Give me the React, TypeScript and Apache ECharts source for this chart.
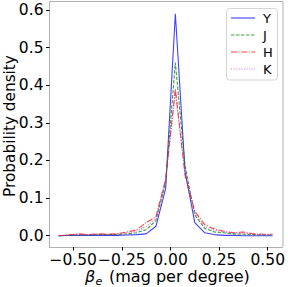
import React, { useEffect, useRef } from "react";
import * as echarts from "echarts";

const xBins = [-0.575, -0.525, -0.475, -0.425, -0.375, -0.325, -0.275, -0.225, -0.175, -0.125, -0.075, -0.025, 0.025, 0.075, 0.125, 0.175, 0.225, 0.275, 0.325, 0.375, 0.425, 0.475, 0.525];
const yY = [0, 0.001, 0.001, 0.001, 0.001, 0.001, 0.001, 0.002, 0.003, 0.005, 0.025, 0.125, 0.59, 0.17, 0.035, 0.008, 0.003, 0.001, 0.001, 0, 0, 0, 0];
const yJ = [0, 0.001, 0.002, 0.002, 0.003, 0.003, 0.003, 0.005, 0.008, 0.016, 0.04, 0.14, 0.46, 0.185, 0.055, 0.02, 0.01, 0.008, 0.005, 0.004, 0.003, 0.002, 0.002];
const yH = [0, 0.002, 0.005, 0.003, 0.005, 0.004, 0.005, 0.01, 0.015, 0.035, 0.05, 0.15, 0.39, 0.16, 0.065, 0.03, 0.018, 0.012, 0.008, 0.01, 0.005, 0.004, 0.004];
const yK = [0, 0.001, 0.003, 0.003, 0.004, 0.004, 0.004, 0.008, 0.012, 0.025, 0.045, 0.15, 0.38, 0.17, 0.06, 0.025, 0.015, 0.01, 0.007, 0.007, 0.004, 0.003, 0.003];
const xTicks = [-0.5, -0.25, 0, 0.25, 0.5];
const yTicks = [0, 0.1, 0.2, 0.3, 0.4, 0.5, 0.6];
const seriesNames = ["Y", "J", "H", "K"];

const fmtX = (v: number) => (v < 0 ? "\u2212" : "") + Math.abs(v).toFixed(2);

const colors = ["#0000ff", "#008000", "#ff0000", "#bf40bf"];
const dashes: any[] = [null, [3.5, 1.5], [6, 1.6, 1, 1.6], [1, 1.6]];

export default function App() {
  const ref = useRef<HTMLDivElement>(null);
  useEffect(() => {
    document.body.style.margin = "0";
    const chart = echarts.init(ref.current!, undefined, { renderer: "svg" });
    const datas = [yY, yJ, yH, yK];
    const series = seriesNames.map((name, k) => ({
      name,
      type: "line",
      data: xBins.map((x, i) => [x, datas[k][i]]),
      showSymbol: false,
      symbol: "none",
      lineStyle: { color: colors[k], width: 1.1, type: dashes[k] || "solid", opacity: 0.75 },
      itemStyle: { color: colors[k] },
    }));
    const legendEls: any[] = [
      { type: "rect", shape: { x: 226.5, y: 8.5, width: 51, height: 71.5, r: 3 }, style: { stroke: "#d5d5d5", fill: "#fff", lineWidth: 1 }, z: 100 },
    ];
    seriesNames.forEach((n, k) => {
      const yy = 18 + k * 17;
      legendEls.push({
        type: "line",
        shape: { x1: 231, y1: yy, x2: 255, y2: yy },
        style: { stroke: colors[k], lineWidth: 1.1, lineDash: dashes[k], opacity: 0.75 },
        z: 101,
      });
      legendEls.push({
        type: "text",
        x: 263,
        y: yy,
        style: { text: n, fontSize: 13, fontFamily: "DejaVu Sans", fill: "#000", verticalAlign: "middle", align: "left" },
        z: 101,
      });
    });
    chart.setOption({
      animation: false,
      grid: { left: 49.5, right: 5, top: 2, bottom: 40 },
      xAxis: {
        type: "value",
        min: -0.622,
        max: 0.575,
        splitLine: { show: false },
        axisLine: { show: true, onZero: false, lineStyle: { color: "#b0b0b0", width: 1 } },
        axisTick: { show: true, customValues: xTicks, length: 3.5, lineStyle: { color: "#000", width: 1 } },
        axisLabel: { customValues: xTicks, formatter: fmtX, fontSize: 15.5, lineHeight: 15, color: "#000", fontFamily: "DejaVu Sans", margin: 5 },
      },
      yAxis: {
        type: "value",
        min: -0.03,
        max: 0.621,
        splitLine: { show: false },
        axisLine: { show: true, onZero: false, lineStyle: { color: "#b0b0b0", width: 1 } },
        axisTick: { show: true, customValues: yTicks, length: 3.5, lineStyle: { color: "#000", width: 1 } },
        axisLabel: { customValues: yTicks, formatter: (v: number) => v.toFixed(1), fontSize: 15.5, color: "#000", fontFamily: "DejaVu Sans", margin: 6 },
      },
      graphic: [
        { type: "line", shape: { x1: 49.5, y1: 1.5, x2: 283, y2: 1.5 }, style: { stroke: "#b0b0b0", lineWidth: 1 } },
        { type: "line", shape: { x1: 283, y1: 1.5, x2: 283, y2: 247 }, style: { stroke: "#b0b0b0", lineWidth: 1 } },
        ...legendEls,
        {
          type: "text",
          x: 85,
          y: 276.5,
          style: { text: "β", fontSize: 16, lineHeight: 14, fontStyle: "italic", fontFamily: "DejaVu Sans", fill: "#000", align: "left", verticalAlign: "middle" },
        },
        {
          type: "text",
          x: 95.5,
          y: 281,
          style: { text: "e", fontSize: 11, lineHeight: 9, fontStyle: "italic", fontFamily: "DejaVu Sans", fill: "#000", align: "left", verticalAlign: "middle" },
        },
        {
          type: "text",
          x: 109,
          y: 276.5,
          style: { text: "(mag per degree)", fontSize: 16, lineHeight: 14, fontFamily: "DejaVu Sans", fill: "#000", align: "left", verticalAlign: "middle" },
        },
        {
          type: "text",
          x: 10,
          y: 126,
          rotation: Math.PI / 2,
          style: { text: "Probability density", align: "center", verticalAlign: "middle", fontSize: 15.3, fontFamily: "DejaVu Sans", fill: "#000" },
        },
      ],
      series,
    });
    return () => chart.dispose();
  }, []);
  return <div ref={ref} style={{ width: 288, height: 287 }} />;
}
